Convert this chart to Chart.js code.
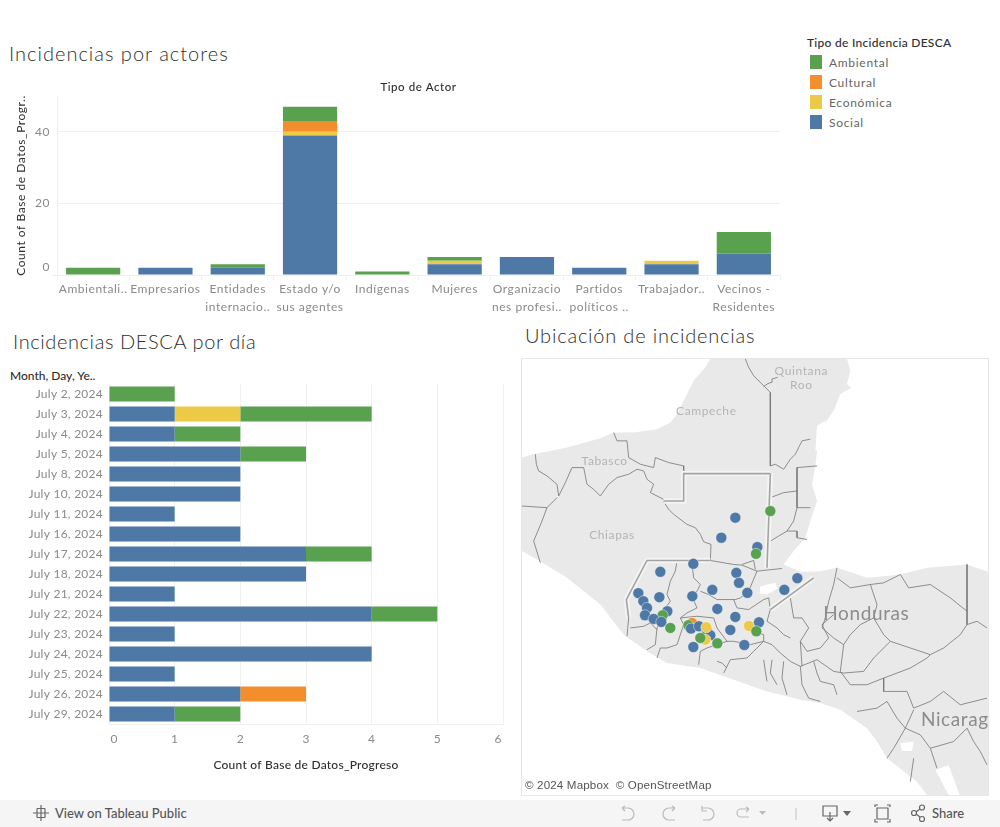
<!DOCTYPE html>
<html>
<head>
<meta charset="utf-8">
<title>Incidencias</title>
<script src="https://cdn.jsdelivr.net/npm/chart.js@4"></script>
<style>
  body { margin: 0; background: #fff; font-family: Lato, sans-serif; width: 1000px; height: 827px; overflow: hidden; position: relative; }
  canvas { position: absolute; }
  .titulo { position: absolute; font-size: 20px; font-weight: 300; color: #2e2e2e; letter-spacing: 1px; white-space: nowrap; line-height: 24px; }
  .leg-titulo { position: absolute; left: 807px; top: 35px; font-size: 12px; font-weight: 500; color: #2e2e2e; letter-spacing: 0.28px; white-space: nowrap; }
  .leg-cuadro { position: absolute; left: 810px; width: 12px; height: 14px; }
  .leg-texto { position: absolute; left: 829px; font-size: 12px; color: #666; letter-spacing: 0.7px; white-space: nowrap; }
  #cabecera { position: absolute; left: 10px; top: 368px; font-size: 12px; font-weight: 500; color: #2e2e2e; white-space: nowrap; }
  #panel-mapa { position: absolute; left: 521px; top: 358px; width: 466px; height: 436px; border: 1px solid #e6e6e6; }
  #creditos { position: absolute; left: 523px; top: 778px; padding: 0 2px; font: 11.6px "Liberation Sans", sans-serif; letter-spacing: 0.15px; color: #555; background: rgba(255,255,255,.6); line-height: 14px; white-space: nowrap; }
  #barra { position: absolute; left: 0; top: 800px; width: 1000px; height: 27px; background: #f5f5f5; }
  #barra span { position: absolute; top: 5px; font-size: 13px; font-weight: 500; color: #555; white-space: nowrap; }
  #barra svg { position: absolute; left: 0; top: 0; }
</style>
</head>
<body>

<div class="titulo" style="left:9px;top:41px">Incidencias por actores</div>
<div class="titulo" style="left:13px;top:329px;letter-spacing:0.6px">Incidencias DESCA por día</div>
<div class="titulo" style="left:525px;top:323px;letter-spacing:0.8px">Ubicación de incidencias</div>
<div id="cabecera">Month, Day, Ye..</div>
<div id="leyenda"></div>

<canvas id="chart-actores" width="790" height="242" style="left:0;top:78px"></canvas>
<canvas id="chart-dias" width="510" height="395" style="left:0;top:377px"></canvas>

<div id="panel-mapa"></div>
<canvas id="chart-mapa" width="466" height="436" style="left:522px;top:359px"></canvas>
<div id="creditos">© 2024 Mapbox&nbsp; © OpenStreetMap</div>

<div id="barra">
  <svg width="1000" height="27" fill="none" stroke-width="1.2">
    <g stroke="#666">
      <path d="M41 5v16M33 13h16M37 8.5h8M37 17.5h8M37 8.5v9M45 8.5v9"/>
    </g>
    <g stroke="#bbb">
      <path d="M622 8l3 -2M622 8l3 3M622 8h6a5 5 0 0 1 0 12h-6"/>
      <path d="M675 8l-3 -2M675 8l-3 3M675 8h-6a5 5 0 0 0 0 12h6"/>
      <path d="M702 6v5h5M702 8h6a5 5 0 0 1 0 12h-5"/>
      <path d="M749 9h-8a4 4 0 0 0 0 8h8M749 9l-3 -2M749 9l-3 3"/>
      <path d="M796 8v12" stroke="#ccc"/>
    </g>
    <path d="M759 11h7l-3.500 4z" fill="#bbb" stroke="none"/>
    <g stroke="#666">
      <path d="M823 6h14v10h-14zM830 12v9M827 18l3 3 3 -3"/>
      <path d="M875 7v-2h3M887 5h3v2M875 19v3h3M887 22h3v-3M877 8h11v11h-11z"/>
      <circle cx="914" cy="13" r="2.500"/><circle cx="922" cy="7.500" r="2.500"/><circle cx="922" cy="19" r="2.500"/>
      <path d="M916 12l4 -3M916 14l4 3"/>
    </g>
    <path d="M843 11h8l-4 5z" fill="#666" stroke="none"/>
  </svg>
  <span style="left:55px">View on Tableau Public</span>
  <span style="left:932px">Share</span>
</div>

<script>
// Datos
const tiposLeyenda = ["Ambiental", "Cultural", "Económica", "Social"];
const colorAmbiental = "#59a14f";
const colorCultural = "#f28e2b";
const colorEconomica = "#edc948";
const colorSocial = "#4e79a7";
const coloresLeyenda = [colorAmbiental, colorCultural, colorEconomica, colorSocial];

const actores = [
  "Ambientali..", "Empresarios", ["Entidades", "internacio.."], ["Estado y/o", "sus agentes"], "Indígenas",
  "Mujeres", ["Organizacio", "nes profesi.."], ["Partidos", "políticos .."], "Trabajador..", ["Vecinos -", "Residentes"],
];
const actoresSocial = [0, 2, 2, 39, 0, 3, 5, 2, 3, 6];
const actoresEconomica = [0, 0, 0, 1, 0, 1, 0, 0, 1, 0];
const actoresCultural = [0, 0, 0, 3, 0, 0, 0, 0, 0, 0];
const actoresAmbiental = [2, 0, 1, 4, 1, 1, 0, 0, 0, 6];

const dias = [
  "July 2, 2024", "July 3, 2024", "July 4, 2024", "July 5, 2024", "July 8, 2024", "July 10, 2024",
  "July 11, 2024", "July 16, 2024", "July 17, 2024", "July 18, 2024", "July 21, 2024", "July 22, 2024",
  "July 23, 2024", "July 24, 2024", "July 25, 2024", "July 26, 2024", "July 29, 2024",
];
const diasSocial = [0, 1, 1, 2, 2, 2, 1, 2, 3, 3, 1, 4, 1, 4, 1, 2, 1];
const diasEconomica = [0, 1, 0, 0, 0, 0, 0, 0, 0, 0, 0, 0, 0, 0, 0, 0, 0];
const diasCultural = [0, 0, 0, 0, 0, 0, 0, 0, 0, 0, 0, 0, 0, 0, 0, 1, 0];
const diasAmbiental = [1, 2, 1, 1, 0, 0, 0, 0, 1, 0, 0, 1, 0, 0, 0, 0, 1];

// Mapa: posiciones, en una cuadricula propia del panel
const incidenciasX = [705, 663, 810, 771, 767, 579, 480, 708, 716, 891, 636, 741, 852, 414, 477, 576, 429, 440, 434, 651, 705, 501, 487, 460, 483, 510, 575, 564, 572, 596, 746, 776, 768, 690, 732, 579, 620, 630, 615, 618, 600, 651];
const incidenciasY = [500, 560, 480, 588, 608, 638, 662, 665, 695, 681, 716, 725, 716, 726, 738, 735, 750, 770, 792, 773, 797, 780, 792, 803, 812, 830, 815, 822, 832, 825, 824, 813, 840, 836, 881, 887, 838, 852, 865, 828, 860, 876];
const incidenciasTipo = ["S", "S", "A", "S", "A", "S", "S", "S", "S", "S", "S", "S", "S", "S", "S", "S", "S", "S", "S", "S", "S", "S", "A", "S", "S", "A", "C", "A", "S", "S", "E", "S", "A", "S", "S", "S", "S", "S", "E", "E", "A", "A"];

const tierra = [
  [65, 320], [100, 310], [200, 290], [300, 262], [340, 245], [400, 245], [470, 235], [510, 215], [530, 190], [580, 90], [615, 50], [630, 25],
  [1040, 25], [1050, 60], [1040, 100], [1052, 112], [1020, 130], [1000, 180], [975, 215], [960, 240], [950, 300], [945, 345], [935, 400], [950, 450], [930, 510], [915, 560], [880, 600], [850, 640],
  [900, 662], [960, 660], [1010, 650], [1100, 680], [1200, 670], [1280, 650], [1400, 640], [1463, 662],
  [1463, 1330], [1280, 1330], [1250, 1290], [1160, 1220], [1130, 1170], [1100, 1130], [1020, 1075], [960, 1055], [900, 1045], [800, 1020], [700, 985], [600, 950], [500, 935], [440, 900], [370, 850], [300, 760], [200, 680], [110, 625], [65, 600],
];
const lagos = [
  [[780, 705], [825, 695], [832, 712], [800, 730], [778, 728]],
  [[1305, 1255], [1345, 1240], [1378, 1330], [1345, 1330]],
  [[1200, 1175], [1240, 1170], [1235, 1198], [1205, 1198]],
  [[950, 225], [975, 210], [965, 290], [945, 300]],
];
const limiteGuatemala = [
  [[810, 368], [550, 368], [550, 450], [490, 450]],
  [[630, 628], [440, 628], [378, 745], [385, 800]],
  [[810, 368], [800, 650]],
  [[810, 775], [940, 680]],
];
const fronteras = [
  [[735, 25], [745, 50], [760, 75], [790, 105], [810, 125], [810, 345]],
  [[790, 108], [800, 100], [812, 95], [815, 85], [832, 80]],
  [[810, 345], [825, 340], [850, 355], [870, 325], [885, 310], [895, 290], [905, 270], [930, 265]],
  [[890, 350], [950, 345]], [[890, 350], [890, 420], [850, 425], [810, 440]], [[890, 420], [890, 470], [930, 470]],
  [[890, 470], [880, 510], [860, 540], [835, 555], [810, 570]], [[860, 540], [890, 540], [890, 560], [920, 565]],
  [[490, 452], [505, 475], [520, 490], [560, 520], [585, 530], [600, 550], [610, 572], [632, 580], [630, 628], [700, 640], [725, 642], [770, 660], [845, 652]],
  [[725, 640], [760, 628], [765, 655]],
  [[105, 310], [108, 340], [115, 360], [140, 375], [170, 400], [175, 435], [195, 395], [215, 350], [250, 350], [260, 400], [280, 415], [300, 435], [325, 400], [350, 380], [385, 370], [410, 355], [430, 360], [440, 385], [460, 400], [450, 425], [490, 445]],
  [[340, 245], [350, 270], [380, 270], [385, 320], [420, 340], [460, 350], [465, 320], [505, 335], [550, 345], [550, 368]],
  [[65, 465], [140, 470], [170, 440]], [[140, 470], [125, 510], [100, 570], [120, 635]],
  [[530, 630], [525, 660], [510, 690], [500, 730], [510, 750], [495, 770], [490, 800], [470, 830], [465, 880], [440, 895]],
  [[575, 640], [580, 680], [600, 700], [590, 720], [575, 735], [590, 770], [560, 785], [540, 800]],
  [[770, 660], [745, 720], [720, 740], [705, 745], [650, 745], [625, 730], [600, 720]],
  [[700, 745], [710, 770], [745, 775], [790, 745], [805, 740], [810, 775], [800, 810], [830, 830], [850, 850], [870, 860]],
  [[385, 800], [380, 855]], [[390, 830], [430, 825], [450, 815], [470, 835]],
  [[540, 800], [550, 820], [530, 880], [500, 890], [480, 890], [470, 920]],
  [[540, 800], [590, 795], [640, 800], [650, 830], [680, 870], [650, 880], [620, 890], [600, 900], [595, 940]],
  [[680, 870], [700, 870], [750, 880], [790, 870], [790, 850], [745, 835], [735, 820]],
  [[790, 870], [760, 900], [740, 920], [690, 925], [670, 965]], [[650, 930], [665, 935], [680, 950]],
  [[790, 870], [815, 880], [840, 905], [870, 930], [900, 945], [950, 925], [1000, 960], [1030, 965], [1090, 960], [1120, 920], [1170, 870]],
  [[790, 925], [795, 960], [800, 990]], [[815, 925], [810, 965], [830, 1000]], [[850, 930], [845, 980], [860, 1030]], [[900, 945], [905, 1000], [925, 1040], [960, 1050]],
  [[940, 930], [950, 965], [960, 990], [1000, 1000], [1010, 1030]],
  [[870, 740], [880, 800], [905, 800], [925, 830], [900, 870], [920, 900], [960, 890], [985, 860], [965, 820], [1000, 790]],
  [[1010, 650], [1000, 700], [985, 750], [975, 800], [965, 830], [1000, 860], [1030, 880], [1050, 850], [1080, 820], [1120, 800], [1150, 850], [1170, 870], [1230, 890], [1290, 910], [1330, 890], [1380, 850], [1400, 820], [1430, 810], [1460, 830]],
  [[1010, 680], [1050, 710], [1110, 700], [1150, 695], [1200, 670], [1225, 710], [1290, 700], [1350, 740], [1400, 780]],
  [[1400, 640], [1400, 820]], [[1120, 800], [1130, 760], [1110, 700]],
  [[1030, 880], [1020, 960], [1050, 1000], [1100, 1000], [1150, 980], [1230, 950], [1280, 920], [1290, 910]],
  [[900, 870], [905, 945]], [[1150, 980], [1150, 1020], [1220, 1020], [1240, 1070], [1290, 1050], [1330, 1020], [1380, 1060], [1460, 1040]],
  [[1070, 1080], [1130, 1070], [1160, 1050], [1190, 1100], [1215, 1130], [1240, 1075]],
  [[1215, 1130], [1260, 1150], [1290, 1190], [1360, 1170], [1400, 1130], [1420, 1170], [1440, 1200], [1460, 1240]],
  [[1215, 1130], [1180, 1190], [1160, 1220]], [[1240, 1220], [1230, 1290]], [[1290, 1190], [1310, 1250]],
];
const nombresMapa = [
  { texto: "Quintana", x: 903, y: 60, px: 12, color: "#b4b4b4", alinear: "center" },
  { texto: "Roo", x: 903, y: 103, px: 12, color: "#b4b4b4", alinear: "center" },
  { texto: "Campeche", x: 618, y: 180, px: 12, color: "#b4b4b4", alinear: "center" },
  { texto: "Tabasco", x: 313, y: 330, px: 12, color: "#b4b4b4", alinear: "center" },
  { texto: "Chiapas", x: 335, y: 553, px: 12, color: "#b4b4b4", alinear: "center" },
  { texto: "Honduras", x: 1098, y: 787, px: 19, color: "#8c8c8c", alinear: "center" },
  { texto: "Nicaragua", x: 1262, y: 1105, px: 19, color: "#8c8c8c", alinear: "left" },
];

// Leyenda
var leyenda = document.getElementById("leyenda");
var htmlLeyenda = '<div class="leg-titulo">Tipo de Incidencia DESCA</div>';
for (var i = 0; i < tiposLeyenda.length; i++) {
  htmlLeyenda += '<div class="leg-cuadro" style="top:' + (55 + i * 20) + 'px;background:' + coloresLeyenda[i] + '"></div>';
  htmlLeyenda += '<div class="leg-texto" style="top:' + (55 + i * 20) + 'px">' + tiposLeyenda[i] + "</div>";
}
leyenda.innerHTML = htmlLeyenda;

Chart.defaults.font.family = "Lato, sans-serif";
Chart.defaults.font.size = 12;
Chart.defaults.animation = false;

const colorTick = "#8a8a8a";
const colorEje = "#2e2e2e";
const colorRejilla = "#f0f0f0";

function espaciado(valor) {
  return {
    id: "espaciado",
    beforeDraw(chart) {
      chart.ctx.letterSpacing = valor;
    },
  };
}

// quita el margen que el eje reserva para medio rotulo
function sinMargen(scale) {
  scale.paddingLeft = 0;
  scale.paddingRight = 0;
  scale.paddingTop = 0;
  scale.paddingBottom = 0;
}

//Chart - actores
new Chart(document.getElementById("chart-actores"), {
  type: "bar",
  plugins: [espaciado("0.55px")],
  data: {
    labels: actores,
    datasets: [
      { label: "Social", data: actoresSocial, backgroundColor: colorSocial },
      { label: "Económica", data: actoresEconomica, backgroundColor: colorEconomica },
      { label: "Cultural", data: actoresCultural, backgroundColor: colorCultural },
      { label: "Ambiental", data: actoresAmbiental, backgroundColor: colorAmbiental },
    ],
  },
  options: {
    responsive: false,
    layout: { padding: { right: 10 }, autoPadding: false },
    datasets: { bar: { categoryPercentage: 1, barPercentage: 0.75 } },
    plugins: { legend: { display: false }, tooltip: { enabled: false } },
    scales: {
      x: {
        stacked: true,
        afterFit(scale) { scale.height = 45; },
        grid: { drawOnChartArea: false, offset: true, color: colorRejilla, tickLength: 5 },
        border: { color: colorRejilla },
        ticks: { color: colorTick, autoSkip: false, maxRotation: 0, padding: 0, font: { lineHeight: 1.5 } },
      },
      arriba: {
        type: "category",
        labels: actores,
        position: "top",
        afterFit(scale) { scale.height = 18; },
        grid: { display: false },
        border: { display: false },
        ticks: { display: false },
        title: { display: true, text: "Tipo de Actor", color: colorEje, font: { weight: 500, size: 11.5 }, padding: { top: 2, bottom: 2 } },
      },
      y: {
        stacked: true,
        min: 0,
        max: 50,
        afterFit(scale) { scale.width = 57; },
        afterBuildTicks(scale) { scale.ticks = [{ value: 0 }, { value: 20 }, { value: 40 }]; },
        grid: { color: colorRejilla, tickLength: 5, tickColor: (c) => (c.tick && c.tick.value === 0 ? colorRejilla : "transparent") },
        border: { color: colorRejilla },
        ticks: {
          color: colorTick,
          padding: 2,
          font: { lineHeight: 1.3 },
          callback: (v) => (v === 0 ? ["0", ""] : v),
        },
        title: { display: true, text: "Count of Base de Datos_Progr..", color: colorEje, font: { size: 12 }, padding: { top: 14, bottom: 0 } },
      },
    },
  },
});

//Chart - dias
new Chart(document.getElementById("chart-dias"), {
  type: "bar",
  plugins: [espaciado("0.25px")],
  data: {
    labels: dias,
    datasets: [
      { label: "Social", data: diasSocial, backgroundColor: colorSocial },
      { label: "Económica", data: diasEconomica, backgroundColor: colorEconomica },
      { label: "Cultural", data: diasCultural, backgroundColor: colorCultural },
      { label: "Ambiental", data: diasAmbiental, backgroundColor: colorAmbiental },
    ],
  },
  options: {
    indexAxis: "y",
    responsive: false,
    layout: { padding: { right: 7, top: 7 }, autoPadding: false },
    datasets: { bar: { categoryPercentage: 1, barPercentage: 0.75 } },
    plugins: { legend: { display: false }, tooltip: { enabled: false } },
    scales: {
      x: {
        stacked: true,
        min: 0,
        max: 6,
        afterFit(scale) { scale.height = 48; sinMargen(scale); },
        grid: { color: colorRejilla, tickLength: 0 },
        border: { color: colorRejilla },
        ticks: {
          color: colorTick,
          padding: 8,
          stepSize: 1,
          callback: (v) => (v === 0 ? "   0" : v === 6 ? "6   " : v),
        },
        title: { display: true, text: "Count of Base de Datos_Progreso", color: colorEje, font: { weight: 500, size: 12 }, padding: { top: 10, bottom: 0 } },
      },
      y: {
        stacked: true,
        afterFit(scale) { scale.width = 109; sinMargen(scale); },
        grid: { display: false, tickLength: 0 },
        border: { color: colorRejilla },
        ticks: { color: colorTick, autoSkip: false, padding: 6 },
      },
    },
  },
});

//Chart - mapa
function puntos(lista) {
  return lista.map((p) => ({ x: p[0], y: p[1] }));
}
var capasMapa = [];
capasMapa.push({
  data: incidenciasX.map((x, n) => ({ x: x, y: incidenciasY[n] })),
  showLine: false,
  order: 0,
  pointRadius: 5.5,
  pointBorderWidth: 0.8,
  pointBorderColor: "rgba(255,255,255,.55)",
  pointBackgroundColor: incidenciasTipo.map((t) => ({ S: colorSocial, A: colorAmbiental, C: colorCultural, E: colorEconomica }[t])),
});
limiteGuatemala.forEach((l) => {
  capasMapa.push({ data: puntos(l), showLine: true, order: 1, pointRadius: 0, borderColor: "#a3a3a3", borderWidth: 1.6 });
  capasMapa.push({ data: puntos(l), showLine: true, order: 2, pointRadius: 0, borderColor: "#f4f4f4", borderWidth: 5.5 });
});
fronteras.forEach((l) => {
  capasMapa.push({ data: puntos(l), showLine: true, order: 3, pointRadius: 0, borderColor: "#757575", borderWidth: 0.8 });
});
lagos.forEach((l) => {
  capasMapa.push({ data: puntos(l.concat([l[0]])), showLine: true, order: 4, pointRadius: 0, borderWidth: 0, fill: "shape", backgroundColor: "#fff" });
});
capasMapa.push({ data: puntos(tierra.concat([tierra[0]])), showLine: true, order: 5, pointRadius: 0, borderWidth: 0, fill: "shape", backgroundColor: "#e9e9e9" });

new Chart(document.getElementById("chart-mapa"), {
  type: "scatter",
  plugins: [
    {
      id: "nombresMapa",
      afterDatasetsDraw(chart) {
        var ctx = chart.ctx;
        var area = chart.chartArea;
        ctx.save();
        ctx.beginPath();
        ctx.rect(area.left, area.top, area.width, area.height);
        ctx.clip();
        ctx.textBaseline = "middle";
        ctx.letterSpacing = "0.6px";
        nombresMapa.forEach((n) => {
          ctx.font = n.px + "px Lato, sans-serif";
          ctx.fillStyle = n.color;
          ctx.textAlign = n.alinear;
          ctx.fillText(n.texto, chart.scales.x.getPixelForValue(n.x), chart.scales.y.getPixelForValue(n.y));
        });
        ctx.restore();
      },
    },
  ],
  data: { datasets: capasMapa },
  options: {
    responsive: false,
    layout: { padding: 0, autoPadding: false },
    plugins: { legend: { display: false }, tooltip: { enabled: false } },
    scales: {
      x: { type: "linear", min: 65, max: 1463, display: false },
      y: { type: "linear", min: 25, max: 1330, reverse: true, display: false },
    },
  },
});
</script>
</body>
</html>
